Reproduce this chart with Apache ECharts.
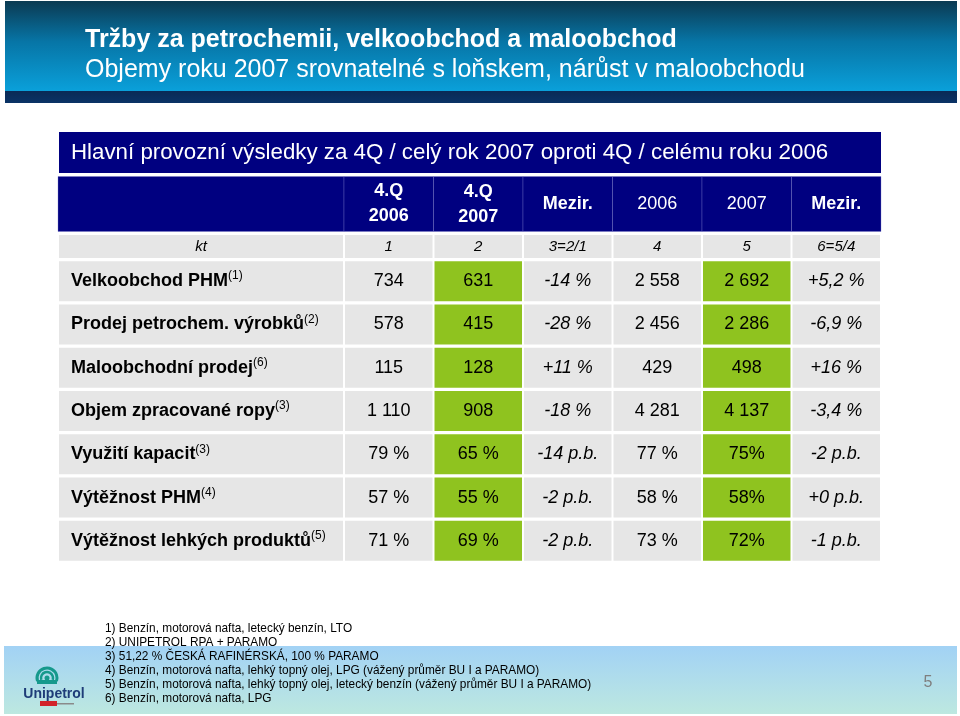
<!DOCTYPE html>
<html><head><meta charset="utf-8">
<script src="https://cdn.jsdelivr.net/npm/echarts@6/dist/echarts.min.js"></script>
<style>html,body{margin:0;padding:0;background:#fff}#c{width:960px;height:716px}</style>
</head><body><div id="c"></div><script>
// ---- data ----
const slideTitle = 'Tržby za petrochemii, velkoobchod a maloobchod';
const slideSubtitle = 'Objemy roku 2007 srovnatelné s loňskem, nárůst v maloobchodu';
const tableTitle = 'Hlavní provozní výsledky za 4Q / celý rok 2007 oproti 4Q / celému roku 2006';
const columnHeaders = ['4.Q\n2006', '4.Q\n2007', 'Mezir.', '2006', '2007', 'Mezir.'];
const columnNumbers = ['1', '2', '3=2/1', '4', '5', '6=5/4'];
const unitLabel = 'kt';
const rowLabels = ['Velkoobchod PHM', 'Prodej petrochem. výrobků', 'Maloobchodní prodej',
  'Objem zpracované ropy', 'Využití kapacit', 'Výtěžnost PHM', 'Výtěžnost lehkých produktů'];
const rowNotes = ['(1)', '(2)', '(6)', '(3)', '(3)', '(4)', '(5)'];
const q4_2006 = ['734', '578', '115', '1 110', '79 %', '57 %', '71 %'];
const q4_2007 = ['631', '415', '128', '908', '65 %', '55 %', '69 %'];
const q4Change = ['-14 %', '-28 %', '+11 %', '-18 %', '-14 p.b.', '-2 p.b.', '-2 p.b.'];
const y2006 = ['2 558', '2 456', '429', '4 281', '77 %', '58 %', '73 %'];
const y2007 = ['2 692', '2 286', '498', '4 137', '75%', '58%', '72%'];
const yChange = ['+5,2 %', '-6,9 %', '+16 %', '-3,4 %', '-2 p.b.', '+0 p.b.', '-1 p.b.'];
const footnotes = [
  '1) Benzín, motorová nafta, letecký benzín, LTO',
  '2) UNIPETROL RPA + PARAMO',
  '3) 51,22 % ČESKÁ RAFINÉRSKÁ, 100 % PARAMO',
  '4) Benzín, motorová nafta, lehký topný olej, LPG (vážený průměr BU I a PARAMO)',
  '5) Benzín, motorová nafta, lehký topný olej, letecký benzín (vážený průměr BU I a PARAMO)',
  '6) Benzín, motorová nafta, LPG'
];
const pageNumber = '5';
const logoText = 'Unipetrol';

// ---- styling ----
const FF = '"Liberation Sans", Arial, sans-serif';
const NAVY = '#000080';
const GREY = '#e6e6e6';
const GREEN = '#8fc31f';
const valueColumns = [q4_2006, q4_2007, q4Change, y2006, y2007, yChange];
const greenCols = [1, 4];
const italicCols = [2, 5];
const boldHeaderCols = [0, 1, 2, 5];

const grids = [], xAxes = [], yAxes = [], series = [];
function addGrid(left, top, width, height, cols, rows) {
  const gi = grids.length;
  grids.push({left, top, width, height, containLabel: false, show: false});
  xAxes.push({type: 'category', gridIndex: gi, data: cols, show: false});
  yAxes.push({type: 'category', gridIndex: gi, data: rows, inverse: true, show: false});
  return gi;
}
function tableSeries(gi, cells, gap) {
  return {
    type: 'custom', xAxisIndex: gi, yAxisIndex: gi, silent: true, animation: false, clip: false,
    data: cells.map(c => [c.col, c.row]),
    renderItem: function (params, api) {
      const cell = cells[params.dataIndex];
      const p = api.coord([api.value(0), api.value(1)]);
      const s = api.size([1, 1]);
      const x = p[0] - s[0] / 2 + gap[0] / 2, y = p[1] - s[1] / 2 + gap[1] / 2;
      const w = s[0] - gap[0], h = s[1] - gap[1];
      const ch = [{type: 'rect', shape: {x, y, width: w, height: h},
        style: {fill: cell.fill, stroke: cell.stroke || null, lineWidth: 1}}];
      if (cell.text) {
        const tx = cell.align === 'left' ? x + cell.pad : x + w / 2;
        ch.push({type: 'text', style: {text: cell.text, x: tx, y: y + h / 2 + (cell.dy || 0),
          align: cell.align || 'center', verticalAlign: 'middle', fill: cell.color,
          font: cell.font, lineHeight: cell.lineHeight, rich: cell.rich}});
      }
      return {type: 'group', children: ch};
    }
  };
}
const colIdx = columnHeaders.map((_, i) => 'c' + i);

// header row
const gHL = addGrid(58, 176.5, 286, 55, ['label'], ['head']);
const gHV = addGrid(344, 176.5, 537, 55, colIdx, ['head']);
series.push(tableSeries(gHL, [{col: 0, row: 0, fill: NAVY, stroke: 'rgba(120,120,200,0.35)', text: ''}], [0, 0]));
series.push(tableSeries(gHV, columnHeaders.map((t, i) => ({
  col: i, row: 0, fill: NAVY, stroke: 'rgba(120,120,200,0.35)', text: t, color: '#fff',
  font: (boldHeaderCols.includes(i) ? 'bold ' : '') + '18px ' + FF, lineHeight: 25, dy: i === 1 ? 1 : 0
})), [0, 0]));

// unit row
const gKL = addGrid(58, 233.5, 286, 26, ['label'], ['kt']);
const gKV = addGrid(344, 233.5, 537, 26, colIdx, ['kt']);
series.push(tableSeries(gKL, [{col: 0, row: 0, fill: GREY, text: unitLabel, color: '#000', font: 'italic 15px ' + FF}], [2, 3]));
series.push(tableSeries(gKV, columnNumbers.map((t, i) => ({
  col: i, row: 0, fill: GREY, text: t, color: '#000', font: 'italic 15px ' + FF
})), [2, 3]));

// body
const gBL = addGrid(58, 259.5, 286, 303, ['label'], rowLabels);
const gBV = addGrid(344, 259.5, 537, 303, colIdx, rowLabels);
series.push(tableSeries(gBL, rowLabels.map((t, r) => ({
  col: 0, row: r, fill: GREY, align: 'left', pad: 12,
  text: '{b|' + t + '}{s|' + rowNotes[r] + '}',
  rich: {
    b: {fontSize: 18, fontWeight: 'bold', fontFamily: FF, fill: '#000', lineHeight: 22},
    s: {fontSize: 12, fontFamily: FF, fill: '#000', lineHeight: 13, verticalAlign: 'top'}
  }
})), [2, 3.3]));
const bodyCells = [];
valueColumns.forEach((arr, c) => arr.forEach((v, r) => bodyCells.push({
  col: c, row: r, fill: greenCols.includes(c) ? GREEN : GREY, text: v, color: '#000',
  font: (italicCols.includes(c) ? 'italic ' : '') + '18px ' + FF
})));
series.push(tableSeries(gBV, bodyCells, [2, 3.3]));

// ---- decorations ----
const graphic = [
  {type: 'rect', shape: {x: 5, y: 1, width: 952, height: 90}, silent: true,
    style: {fill: new echarts.graphic.LinearGradient(0, 0, 0, 1, [
      {offset: 0, color: '#0b3a52'}, {offset: 0.45, color: '#0775a6'}, {offset: 1, color: '#0aa0da'}])}},
  {type: 'rect', shape: {x: 5, y: 91, width: 952, height: 12}, silent: true,
    style: {fill: new echarts.graphic.LinearGradient(0, 0, 0, 1, [
      {offset: 0, color: '#0a2a55'}, {offset: 1, color: '#0a3366'}])}},
  {type: 'rect', shape: {x: 59, y: 132, width: 822, height: 41}, silent: true, style: {fill: NAVY}},
  {type: 'text', silent: true, style: {text: tableTitle, x: 71, y: 153, verticalAlign: 'middle',
    fill: '#fff', font: '22.3px ' + FF}},
  {type: 'rect', shape: {x: 4, y: 646, width: 953, height: 68}, silent: true,
    style: {fill: new echarts.graphic.LinearGradient(0, 0, 0, 1, [
      {offset: 0, color: '#a2d2f5'}, {offset: 1, color: '#bde8e0'}])}},
  {type: 'text', silent: true, style: {text: pageNumber, x: 928, y: 683, align: 'center',
    verticalAlign: 'middle', fill: '#7f7f7f', font: '16px ' + FF}},
  // logo
  {type: 'arc', silent: true, shape: {cx: 47, cy: 678, r: 10, startAngle: Math.PI * 0.9, endAngle: Math.PI * 2.1},
    style: {stroke: '#16998c', lineWidth: 3, fill: null}},
  {type: 'arc', silent: true, shape: {cx: 47, cy: 678, r: 6, startAngle: Math.PI * 0.9, endAngle: Math.PI * 2.1},
    style: {stroke: '#16998c', lineWidth: 2.5, fill: null}},
  {type: 'circle', silent: true, shape: {cx: 47, cy: 678, r: 2.5}, style: {fill: '#16998c'}},
  {type: 'rect', silent: true, shape: {x: 37, y: 680, width: 20, height: 4}, style: {fill: '#16998c'}},
  {type: 'text', silent: true, style: {text: logoText, x: 54, y: 694, align: 'center', verticalAlign: 'middle',
    fill: '#1e3c78', font: 'bold 14px ' + FF}},
  {type: 'rect', silent: true, shape: {x: 40, y: 701, width: 17, height: 5}, style: {fill: '#d2232a'}},
  {type: 'rect', silent: true, shape: {x: 57, y: 703, width: 17, height: 1.5}, style: {fill: '#8a8a8a'}}
];
footnotes.forEach((t, i) => graphic.push({type: 'text', silent: true,
  style: {text: t, x: 105, y: 629 + i * 14, verticalAlign: 'middle', fill: '#000', font: '11.85px ' + FF}}));

const chart = echarts.init(document.getElementById('c'), null, {renderer: 'canvas'});
chart.setOption({
  backgroundColor: '#fff',
  animation: false,
  title: [
    {text: slideTitle, left: 85, top: 25, padding: 0,
      textStyle: {color: '#fff', fontSize: 25, fontWeight: 'bold', fontFamily: FF, lineHeight: 30}},
    {text: slideSubtitle, left: 85, top: 55, padding: 0,
      textStyle: {color: '#fff', fontSize: 25, fontWeight: 'normal', fontFamily: FF, lineHeight: 30}}
  ],
  grid: grids, xAxis: xAxes, yAxis: yAxes, series, graphic
});
</script></body></html>
